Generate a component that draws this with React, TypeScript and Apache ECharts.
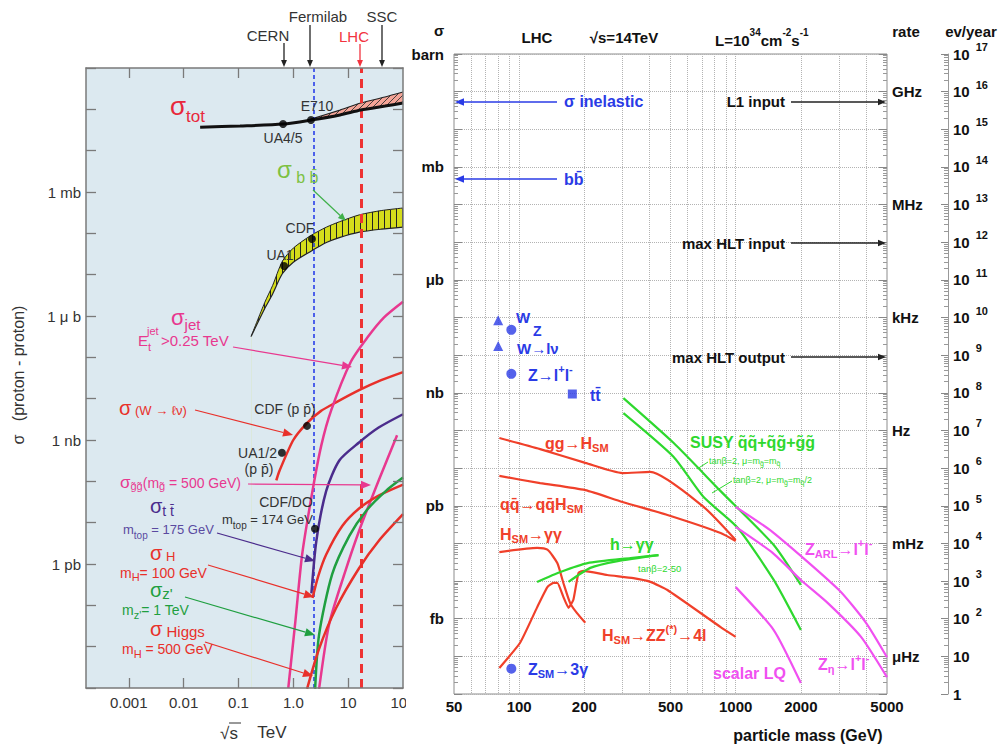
import React, { useEffect, useRef } from 'react';
import * as echarts from 'echarts';

// ================= LEFT PANEL: sigma(p-p) versus sqrt(s) =================
// sqrt(s) in TeV, cross sections in mb
const sqrtSRange = [1.66e-4, 100];
const sigmaRangeMb = [1e-12, 1e3];
const sqrtSTickValues = [0.001, 0.01, 0.1, 1, 10, 100];
const sqrtSTickLabels = ['0.001', '0.01', '0.1', '1.0', '10', '100'];
const sigmaLeftLabelValues = [1, 1e-3, 1e-6, 1e-9];
const sigmaLeftLabels = ['1 mb', '1 \u03bc b', '1 nb', '1 pb'];

const totSqrtS = [0.02, 0.107, 0.65, 2.1, 7.1, 17, 47, 100];
const totSigma = [37, 39.5, 44, 55, 73, 96, 120, 142];
const totBandSqrtS = [2.1, 7.1, 17, 47, 100];
const totBandUpper = [58, 96, 142, 199, 262];
const totBandLower = [55, 73, 96, 120, 142];

const bbSqrtS = [0.17, 0.3, 0.42, 0.63, 1.0, 2.1, 4.0, 6.9, 16, 40, 100];
const bbUpper = [3.2e-4, 2.1e-3, 5.5e-3, 0.021, 0.044, 0.089, 0.141, 0.19, 0.28, 0.355, 0.41];
const bbLower = [3.2e-4, 1.5e-3, 3.4e-3, 0.0105, 0.02, 0.037, 0.06, 0.079, 0.107, 0.126, 0.141];

const wSqrtS = [0.49, 0.56, 1.0, 1.74, 3.16, 6.0, 15.8, 40, 100];
const wSigma = [1.05e-7, 1.8e-7, 1.0e-6, 2.5e-6, 5.0e-6, 8.1e-6, 1.6e-5, 2.8e-5, 4.4e-5];
const jetSqrtS = [0.81, 1.09, 1.45, 2.24, 3.24, 4.9, 11.2, 22.4, 44.7, 100];
const jetSigma = [1.0e-12, 4.1e-11, 1.7e-9, 5.9e-8, 7.4e-7, 5.2e-6, 7.8e-5, 3.0e-4, 9.1e-4, 2.2e-3];
const gluinoSqrtS = [2.95, 4.5, 8.5, 15.8, 36, 78];
const gluinoSigma = [9.5e-13, 3.5e-11, 5.6e-10, 6.3e-9, 1.05e-7, 1.3e-6];
const topSqrtS = [2.14, 2.63, 3.98, 6.9, 15.8, 36, 100];
const topSigma = [1.95e-10, 3.6e-9, 5.9e-8, 3.2e-7, 8.7e-7, 2.0e-6, 4.2e-6];
const h100SqrtS = [2.24, 2.85, 3.98, 7.8, 15.8, 36, 100];
const h100Sigma = [1.5e-10, 5.1e-10, 1.7e-9, 8.3e-9, 2.2e-8, 4.5e-8, 8.3e-8];
const zpSqrtS = [2.5, 2.95, 5.1, 10.5, 21.4, 49, 100];
const zpSigma = [9.5e-13, 1.95e-11, 5.6e-10, 4.8e-9, 1.95e-8, 5.9e-8, 1.23e-7];
const h500SqrtS = [1.78, 2.95, 6.0, 15.8, 36, 100];
const h500Sigma = [9.5e-13, 8.9e-12, 8.5e-11, 7.9e-10, 3.6e-9, 1.6e-8];

// measured points: UA4/5, E710, UA1, CDF(bb), UA1/2, CDF(W), CDF/D0(tt)
const measSqrtS = [0.65, 2.1, 0.68, 2.19, 0.62, 1.78, 2.48];
const measSigma = [44, 55, 0.0162, 0.073, 4.9e-7, 2.2e-6, 7.1e-9];

const tevatronSqrtS = 2.38;
const lhcSqrtS = 17;

// ================= RIGHT PANEL: LHC rates versus particle mass =================
// mass in GeV, cross sections in pb
const massRange = [50, 5000];
const sigmaRangePb = [1e-5, 1e12];
const massLabelValues = [50, 100, 200, 500, 1000, 2000, 5000];
const massGridValues = [60, 70, 80, 90, 100, 200, 300, 400, 500, 600, 700, 800, 900, 1000, 2000, 3000, 4000];
const sigmaUnitValues = [1e12, 1e9, 1e6, 1e3, 1, 1e-3];
const sigmaUnitLabels = ['barn', 'mb', '\u03bcb', 'nb', 'pb', 'fb'];
const rateValuesPb = [1e11, 1e8, 1e5, 1e2, 1e-1, 1e-4];
const rateLabels = ['GHz', 'MHz', 'kHz', 'Hz', 'mHz', '\u03bcHz'];
const eventsPerYearPerPb = 1e5;

const ggHMass = [81, 125, 202, 300, 403, 711, 1000];
const ggHSigma = [63, 32, 13.8, 7.4, 7.9, 0.93, 0.123];
const qqHMass = [81, 125, 202, 300, 484, 852, 1000];
const qqHSigma = [6.2, 4.0, 2.6, 1.26, 0.57, 0.19, 0.116];
const hggMass = [81, 121, 135, 150, 160, 172, 185, 202];
const hggSigma = [0.059, 0.076, 0.068, 0.03, 0.0089, 0.0026, 0.0014, 0.00078];
const hzzMass = [81, 101, 121, 135, 144, 150, 160, 169, 178, 188, 198, 255, 337, 404, 484, 852, 1000];
const hzzSigma = [4.9e-5, 2.3e-4, 2.0e-3, 6.9e-3, 8.9e-3, 8.9e-3, 3.8e-3, 1.95e-3, 3.2e-3, 0.0166, 0.0186, 0.0145, 0.012, 0.0095, 0.0058, 6.0e-4, 3.3e-4];
const mssmGG1Mass = [121, 155, 207, 327, 440];
const mssmGG1Sigma = [0.0095, 0.0174, 0.03, 0.041, 0.049];
const mssmGG2Mass = [169, 213, 285, 440];
const mssmGG2Sigma = [0.0095, 0.0224, 0.034, 0.049];
const susyAMass = [303, 516, 852, 1499, 2000];
const susyASigma = [724, 47, 2.45, 0.091, 0.0079];
const susyBMass = [303, 516, 711, 1021, 1499, 2000];
const susyBSigma = [288, 20, 1.7, 0.26, 0.0107, 5.0e-4];
const zarlMass = [1000, 1482, 3000, 4000, 5000];
const zarlSigma = [0.93, 0.2, 0.0058, 7.8e-4, 9.5e-5];
const zetaMass = [1000, 1482, 2000, 2666, 3793, 5000];
const zetaSigma = [0.275, 0.056, 0.0107, 0.0026, 3.3e-4, 2.8e-5];
const lqMass = [1000, 1499, 2000];
const lqSigma = [6.9e-3, 5.0e-4, 1.95e-5];

const wPointMass = [80, 80];
const wPointSigma = [8.5e4, 1.74e4];
const zPointMass = [92, 92, 92];
const zPointSigma = [4.7e4, 3.2e3, 4.7e-5];
const ttPointMass = [176];
const ttPointSigma = [930];

// ================= styling =================
const FONT = "'Liberation Sans', Arial, Helvetica, sans-serif";
const LEFT_BG = '#dce9f0';
const RED_L = '#e8302a';
const PINK_L = '#e8388f';
const PURPLE_L = '#4b2c8c';
const GREEN_L = '#1f9f40';
const RED_R = '#f0402a';
const GREEN_R = '#2ed82e';
const MAG_R = '#f050f0';
const BLUE_R = '#2a3be6';

function svgPattern(inner: string, w: number, h: number) {
  const svg = `<svg xmlns="http://www.w3.org/2000/svg" width="${w}" height="${h}">${inner}</svg>`;
  return {
    image: 'data:image/svg+xml;charset=utf-8,' + encodeURIComponent(svg),
    repeat: 'repeat',
    imageWidth: w,
    imageHeight: h,
  };
}

function arrow(x1: number, y1: number, x2: number, y2: number, color: string, width = 1.3, head = 8) {
  const a = Math.atan2(y2 - y1, x2 - x1);
  const bx = x2 - head * Math.cos(a);
  const by = y2 - head * Math.sin(a);
  const w = head * 0.42;
  const nx = -Math.sin(a) * w;
  const ny = Math.cos(a) * w;
  return [
    { type: 'line', silent: true, z: 50, shape: { x1, y1, x2: bx, y2: by }, style: { stroke: color, lineWidth: width } },
    { type: 'polygon', silent: true, z: 50, shape: { points: [[x2, y2], [bx + nx, by + ny], [bx - nx, by - ny]] }, style: { fill: color } },
  ];
}

type TOpt = { size?: number; color?: string; weight?: string; align?: string; rich?: any; rotation?: number };
function text(t: string, x: number, y: number, o: TOpt = {}) {
  return {
    type: 'text',
    silent: true,
    z: 60,
    x,
    y,
    rotation: o.rotation || 0,
    style: {
      text: t,
      fill: o.color || '#333',
      fontSize: o.size || 14,
      fontWeight: o.weight || 'normal',
      fontFamily: FONT,
      align: o.align || 'left',
      verticalAlign: 'middle',
      rich: o.rich,
    },
  };
}
// defs: key -> [fontSize, shift]; shift > 0 lowers (subscript), shift < 0 raises (superscript)
function rich(color: string, weight: string, defs: Record<string, number[]>) {
  const r: any = {};
  Object.keys(defs).forEach((k) => {
    const s = defs[k][0];
    const shift = defs[k][1] || 0;
    const pad = shift > 0 ? [shift * 2, 0, 0, 0] : shift < 0 ? [0, 0, -shift * 2, 0] : [0, 0, 0, 0];
    r[k] = { fontSize: s, fill: color, fontWeight: weight, fontFamily: FONT, padding: pad, verticalAlign: 'middle' };
  });
  return r;
}

function buildOption(): any {
  const LG = Math.log10;
  const pts = (xs: number[], ys: number[]) => xs.map((x, i) => [LG(x), LG(ys[i])]);
  const pick = (vals: number[], labels: string[]) => (v: number) => {
    const i = vals.findIndex((t) => Math.abs(LG(t) - v) < 1e-6);
    return i >= 0 ? labels[i] : '';
  };
  const line = (xs: number[], ys: number[], color: string, width: number, xi: number, yi: number, z = 6, smooth: any = 0.25) => ({
    type: 'line',
    xAxisIndex: xi,
    yAxisIndex: yi,
    data: pts(xs, ys),
    symbol: 'none',
    smooth,
    lineStyle: { color, width },
    itemStyle: { color },
    z,
    silent: true,
  });

  const yellowHatch = svgPattern('<rect width="6" height="6" fill="#d5dd1b"/><rect x="0" y="0" width="1" height="6" fill="#222"/>', 6, 6);
  const pinkHatch = svgPattern('<rect width="6" height="6" fill="#f4a497"/><path d="M-1 7 L7 -1" stroke="#333" stroke-width="0.9"/>', 6, 6);

  const gray = '#7a7a7a';
  const leftAxisLine = { show: true, onZero: false, lineStyle: { color: gray, width: 1.5 } };
  const leftTick = { show: true, inside: true, length: 10, lineStyle: { color: gray, width: 1.3 } };
  const xMinL = LG(sqrtSRange[0]);
  const xMaxL = LG(sqrtSRange[1]);
  const yMinL = LG(sigmaRangeMb[0]);
  const yMaxL = LG(sigmaRangeMb[1]);
  const leftTickX = sqrtSTickValues.slice(0, 5).map(LG);

  const xMinR = LG(massRange[0]);
  const xMaxR = LG(massRange[1]);
  const yMinR = LG(sigmaRangePb[0]);
  const yMaxR = LG(sigmaRangePb[1]);
  const minorR: number[] = [];
  for (let n = yMinR; n < yMaxR; n++) for (let k = 2; k <= 9; k++) minorR.push(n + LG(k));
  const boldLabel = { color: '#111', fontWeight: 'bold', fontSize: 15, fontFamily: FONT };
  const noLine = { show: false, onZero: false };
  const dotted = { show: true, lineStyle: { color: '#b3b3b3', type: 'dotted', width: 1 } };

  const xAxis = [
    {
      type: 'value', gridIndex: 0, position: 'bottom', min: xMinL, max: xMaxL, z: 10,
      axisLine: leftAxisLine, axisTick: { ...leftTick, customValues: leftTickX },
      axisLabel: { customValues: sqrtSTickValues.map(LG), formatter: pick(sqrtSTickValues, sqrtSTickLabels), color: '#333', fontSize: 15, fontFamily: FONT, margin: 7, showMinLabel: true, showMaxLabel: true },
      splitLine: { show: false },
    },
    {
      type: 'value', gridIndex: 0, position: 'top', min: xMinL, max: xMaxL, z: 10,
      axisLine: leftAxisLine, axisTick: { ...leftTick, customValues: leftTickX },
      axisLabel: { show: false }, splitLine: { show: false },
    },
    {
      type: 'value', gridIndex: 1, position: 'bottom', min: xMinR, max: xMaxR,
      axisLine: noLine, axisTick: { show: false, customValues: massGridValues.map(LG) },
      axisLabel: { ...boldLabel, customValues: massLabelValues.map(LG), formatter: (v: number) => String(Math.round(Math.pow(10, v))), margin: 5, showMinLabel: true, showMaxLabel: true },
      splitLine: dotted,
    },
  ];

  const evLabel = (v: number) => {
    const e = Math.round(v + LG(eventsPerYearPerPb));
    if (e === 0) return '{b|1}';
    if (e === 1) return '{b|10}';
    return '{b|10}{s|' + e + '}';
  };

  const yAxis = [
    {
      type: 'value', gridIndex: 0, position: 'left', min: yMinL, max: yMaxL, interval: 1, z: 10,
      axisLine: leftAxisLine, axisTick: leftTick,
      axisLabel: { customValues: sigmaLeftLabelValues.map(LG), formatter: pick(sigmaLeftLabelValues, sigmaLeftLabels), color: '#333', fontSize: 15, fontFamily: FONT, margin: 5 },
      splitLine: { show: false },
    },
    {
      type: 'value', gridIndex: 0, position: 'right', min: yMinL, max: yMaxL, interval: 1, z: 10,
      axisLine: leftAxisLine, axisTick: leftTick, axisLabel: { show: false }, splitLine: { show: false },
    },
    {
      type: 'value', gridIndex: 1, position: 'left', min: yMinR, max: yMaxR, interval: 1,
      axisLine: noLine, axisTick: { show: true, inside: true, length: 8, lineStyle: { color: '#888' } },
      axisLabel: { ...boldLabel, customValues: sigmaUnitValues.map(LG), formatter: pick(sigmaUnitValues, sigmaUnitLabels), margin: 10, showMaxLabel: true },
      splitLine: dotted,
    },
    {
      type: 'value', gridIndex: 1, position: 'left', min: yMinR, max: yMaxR,
      axisLine: noLine, axisTick: { show: true, inside: true, length: 4, customValues: minorR, lineStyle: { color: '#999' } },
      axisLabel: { show: false }, splitLine: { show: false },
    },
    {
      type: 'value', gridIndex: 1, position: 'right', min: yMinR, max: yMaxR, interval: 1,
      axisLine: noLine, axisTick: { show: true, inside: true, length: 8, lineStyle: { color: '#888' } },
      axisLabel: { ...boldLabel, customValues: rateValuesPb.map(LG), formatter: pick(rateValuesPb, rateLabels), margin: 5 },
      splitLine: { show: false },
    },
    {
      type: 'value', gridIndex: 1, position: 'right', min: yMinR, max: yMaxR,
      axisLine: noLine, axisTick: { show: true, inside: true, length: 4, customValues: minorR, lineStyle: { color: '#999' } },
      axisLabel: { show: false }, splitLine: { show: false },
    },
    {
      type: 'value', gridIndex: 1, position: 'right', offset: 61, min: yMinR, max: yMaxR, interval: 1,
      axisLine: { show: true, onZero: false, lineStyle: { color: '#999', width: 1 } },
      axisTick: { show: true, inside: true, length: 7, lineStyle: { color: '#888' } },
      axisLabel: {
        formatter: evLabel, margin: 5, showMinLabel: true, showMaxLabel: true,
        rich: {
          b: { fontSize: 15, fontWeight: 'bold', color: '#111', fontFamily: FONT },
          s: { fontSize: 11, fontWeight: 'bold', color: '#111', fontFamily: FONT, padding: [0, 0, 14, 6] },
        },
      },
      splitLine: { show: false },
    },
    {
      type: 'value', gridIndex: 1, position: 'right', offset: 61, min: yMinR, max: yMaxR,
      axisLine: noLine, axisTick: { show: true, inside: true, length: 4, customValues: minorR, lineStyle: { color: '#999' } },
      axisLabel: { show: false }, splitLine: { show: false },
    },
  ];

  const series: any[] = [
    // sigma_tot band (pink, hatched) and cover below its lower edge
    { ...line(totBandSqrtS, totBandUpper, '#222', 1.2, 0, 0, 1), areaStyle: { color: pinkHatch, opacity: 1, origin: 'start' } },
    { ...line(totBandSqrtS, totBandLower, '#222', 1, 0, 0, 2), areaStyle: { color: LEFT_BG, opacity: 1, origin: 'start' } },
    // sigma_bb band (yellow, hatched)
    { ...line(bbSqrtS, bbUpper, '#222', 1, 0, 0, 3), areaStyle: { color: yellowHatch, opacity: 1, origin: 'start' } },
    { ...line(bbSqrtS, bbLower, '#222', 1.2, 0, 0, 4), areaStyle: { color: LEFT_BG, opacity: 1, origin: 'start' } },
    line(totSqrtS, totSigma, '#111', 3, 0, 0, 6),
    {
      ...line(wSqrtS, wSigma, RED_L, 2.5, 0, 0, 6),
      markLine: {
        silent: true, symbol: ['none', 'none'], label: { show: false }, z: 5,
        data: [
          { xAxis: LG(tevatronSqrtS), lineStyle: { color: '#1d33e8', width: 1.5, type: [4, 3] } },
          { xAxis: LG(lhcSqrtS), lineStyle: { color: '#ee3333', width: 3, type: [9, 6] } },
        ],
      },
    },
    line(jetSqrtS, jetSigma, PINK_L, 2.5, 0, 0, 6),
    line(gluinoSqrtS, gluinoSigma, PINK_L, 2.5, 0, 0, 6),
    line(topSqrtS, topSigma, PURPLE_L, 2.5, 0, 0, 6),
    line(h100SqrtS, h100Sigma, RED_L, 2.5, 0, 0, 6),
    line(zpSqrtS, zpSigma, GREEN_L, 2.5, 0, 0, 6),
    line(h500SqrtS, h500Sigma, RED_L, 2.5, 0, 0, 6),
    { type: 'scatter', xAxisIndex: 0, yAxisIndex: 0, data: pts(measSqrtS, measSigma), symbol: 'circle', symbolSize: 8, itemStyle: { color: '#000' }, z: 8, silent: true },

    // right panel
    line(ggHMass, ggHSigma, RED_R, 2.2, 2, 2, 6, 0.2),
    line(qqHMass, qqHSigma, RED_R, 2.2, 2, 2, 6, 0.2),
    line(hggMass, hggSigma, RED_R, 2.2, 2, 2, 6, 0.2),
    line(hzzMass, hzzSigma, RED_R, 2.2, 2, 2, 6, 0.15),
    line(mssmGG1Mass, mssmGG1Sigma, GREEN_R, 2.2, 2, 2, 6, 0.2),
    line(mssmGG2Mass, mssmGG2Sigma, GREEN_R, 2.2, 2, 2, 6, 0.2),
    line(susyAMass, susyASigma, GREEN_R, 2.2, 2, 2, 6, 0.2),
    line(susyBMass, susyBSigma, GREEN_R, 2.2, 2, 2, 6, 0.2),
    line(zarlMass, zarlSigma, MAG_R, 2.2, 2, 2, 6, 0.2),
    line(zetaMass, zetaSigma, MAG_R, 2.2, 2, 2, 6, 0.2),
    line(lqMass, lqSigma, MAG_R, 2.2, 2, 2, 6, 0.2),
    { type: 'scatter', xAxisIndex: 2, yAxisIndex: 2, data: pts(wPointMass, wPointSigma), symbol: 'triangle', symbolSize: 10, itemStyle: { color: BLUE_R }, z: 8, silent: true },
    { type: 'scatter', xAxisIndex: 2, yAxisIndex: 2, data: pts(zPointMass, zPointSigma), symbol: 'circle', symbolSize: 10, itemStyle: { color: BLUE_R }, z: 8, silent: true },
    { type: 'scatter', xAxisIndex: 2, yAxisIndex: 2, data: pts(ttPointMass, ttPointSigma), symbol: 'rect', symbolSize: 9, itemStyle: { color: BLUE_R }, z: 8, silent: true },
  ];

  // ---------------- annotations ----------------
  const dark = '#333';
  const g: any[] = [];
  // accelerators above left panel
  g.push(text('CERN', 268, 35, { size: 15, align: 'center' }));
  g.push(text('Fermilab', 318, 16, { size: 15, align: 'center' }));
  g.push(text('LHC', 354, 36, { size: 15, align: 'center', color: '#f2333f' }));
  g.push(text('SSC', 382, 16, { size: 15, align: 'center' }));
  g.push(...arrow(284, 43, 284, 67, '#222', 1.3, 7));
  g.push(...arrow(310, 25, 310, 67, '#222', 1.3, 7));
  g.push(...arrow(360, 44, 360, 67, '#f2333f', 1.3, 7));
  g.push(...arrow(382, 25, 382, 67, '#222', 1.3, 7));

  g.push(text('{g|\u03c3}{s|tot}', 170, 106, { rich: rich('#e8283c', 'normal', { g: [26], s: [17, 10] }) }));
  g.push(text('E710', 317, 106, { size: 14, align: 'center' }));
  g.push(text('UA4/5', 283, 138, { size: 14, align: 'center' }));
  g.push(text('{g|\u03c3}{s| b b\u0304}', 277, 169, { rich: rich('#7cc142', 'normal', { g: [24], s: [16, 8] }) }));
  g.push(...arrow(313, 190, 346, 221, '#3fb04a', 1.2, 8));
  g.push(text('CDF', 300, 228, { size: 14, align: 'center' }));
  g.push(text('UA1', 280, 255, { size: 14, align: 'center' }));

  g.push(text('{g|\u03c3}{s|jet}', 171, 317, { rich: rich(PINK_L, 'normal', { g: [22], s: [15, 7] }) }));
  g.push(text('E', 138, 340, { size: 15, color: PINK_L }));
  g.push(text('jet', 147, 331, { size: 11, color: PINK_L }));
  g.push(text('t', 148, 347, { size: 11, color: PINK_L }));
  g.push(text('>0.25 TeV', 161, 340, { size: 15, color: PINK_L }));
  g.push(...arrow(233, 347, 352, 367, PINK_L, 1.2, 10));

  g.push(text('{g|\u03c3}{t| (W \u2192 \u2113\u03bd)}', 119, 408, { rich: rich(RED_L, 'normal', { g: [20], t: [13, 2] }) }));
  g.push(...arrow(195, 410, 293, 435, RED_L, 1.2, 10));
  g.push(text('CDF (p p\u0304)', 285, 409, { size: 14, align: 'center' }));
  g.push(text('UA1/2', 277, 453, { size: 14, align: 'right' }));
  g.push(text('(p p\u0304)', 259, 469, { size: 14, align: 'center' }));

  g.push(text('{g|\u03c3}{s|g\u0303g\u0303}{t|(m}{s|g\u0303}{t| = 500 GeV)}', 120, 482, { rich: rich(PINK_L, 'normal', { g: [17], s: [11, 4], t: [14, 1] }) }));
  g.push(...arrow(248, 484, 371, 485, PINK_L, 1.2, 10));

  g.push(text('{g|\u03c3}{s|t t\u0304}', 150, 506, { rich: rich(PURPLE_L, 'normal', { g: [20], s: [14, 5] }) }));
  g.push(text('{t|m}{s|top}{t| = 175 GeV}', 123, 529, { rich: rich('#5a4aa0', 'normal', { t: [13], s: [10, 6] }) }));
  g.push(...arrow(217, 533, 315, 561, PURPLE_L, 1.2, 10));
  g.push(text('CDF/DO', 286, 502, { size: 14, align: 'center' }));
  g.push(text('{t|m}{s|top}{t| = 174 GeV}', 222, 519, { rich: rich(dark, 'normal', { t: [13], s: [10, 6] }) }));

  g.push(text('{g|\u03c3}{s| H}', 150, 553, { rich: rich(RED_L, 'normal', { g: [20], s: [13, 3] }) }));
  g.push(text('{t|m}{s|H}{t|= 100 GeV}', 120, 573, { rich: rich(RED_L, 'normal', { t: [14], s: [11, 4] }) }));
  g.push(...arrow(208, 565, 314, 597, RED_L, 1.2, 10));

  g.push(text("{g|\u03c3}{s|z'}", 150, 590, { rich: rich(GREEN_L, 'normal', { g: [20], s: [15, 3] }) }));
  g.push(text("{t|m}{s|z'}{t|= 1 TeV}", 122, 610, { rich: rich(GREEN_L, 'normal', { t: [14], s: [11, 5] }) }));
  g.push(...arrow(185, 597, 315, 635, GREEN_L, 1.2, 10));

  g.push(text('{g|\u03c3}{s| Higgs}', 150, 629, { rich: rich(RED_L, 'normal', { g: [20], s: [15, 2] }) }));
  g.push(text('{t|m}{s|H}{t| = 500 GeV}', 122, 649, { rich: rich(RED_L, 'normal', { t: [14], s: [11, 5] }) }));
  g.push(...arrow(205, 642, 313, 676, RED_L, 1.2, 10));

  g.push(text('\u03c3   (proton - proton)', 18, 375, { size: 16, align: 'center', rotation: Math.PI / 2 }));
  g.push(text('\u221as', 229, 733, { size: 17, align: 'center' }));
  g.push({ type: 'line', silent: true, z: 60, shape: { x1: 229, y1: 723, x2: 241, y2: 723 }, style: { stroke: dark, lineWidth: 1 } });
  g.push(text('TeV', 272, 732, { size: 17, align: 'center' }));
  g.push({ type: 'rect', silent: true, z: 40, shape: { x: 406, y: 693, width: 40, height: 20 }, style: { fill: '#fff' } });

  // right panel header
  const B = '#111';
  g.push(text('\u03c3', 439, 30, { size: 15, weight: 'bold', color: B, align: 'center' }));
  g.push(text('LHC', 537, 37, { size: 15, weight: 'bold', color: B, align: 'center' }));
  g.push(text('\u221as=14TeV', 624, 37, { size: 15, weight: 'bold', color: B, align: 'center' }));
  g.push(text('{t|L=10}{p|34}{t|cm}{p|-2}{t|s}{p|-1}', 715, 40, { rich: rich(B, 'bold', { t: [15], p: [10, -8] }) }));
  g.push(text('rate', 906, 31, { size: 15, weight: 'bold', color: B, align: 'center' }));
  g.push(text('ev/year', 971, 31, { size: 15, weight: 'bold', color: B, align: 'center' }));

  // reference lines
  g.push(text('\u03c3 inelastic', 564, 101, { size: 16, weight: 'bold', color: BLUE_R }));
  g.push(...arrow(557, 102, 455, 102, BLUE_R, 1.5, 9));
  g.push(text('bb\u0304', 564, 179, { size: 16, weight: 'bold', color: BLUE_R }));
  g.push(...arrow(557, 179, 455, 179, BLUE_R, 1.5, 9));
  g.push(text('L1 input', 785, 101, { size: 15, weight: 'bold', color: B, align: 'right' }));
  g.push(...arrow(791, 102, 886, 102, '#222', 1.5, 8));
  g.push(text('max HLT input', 785, 243, { size: 15, weight: 'bold', color: B, align: 'right' }));
  g.push(...arrow(791, 243, 886, 243, '#222', 1.5, 8));
  g.push(text('max HLT output', 785, 357, { size: 15, weight: 'bold', color: B, align: 'right' }));
  g.push(...arrow(791, 357, 886, 357, '#222', 1.5, 8));

  // right panel process labels
  const rb = (c: string) => rich(c, 'bold', { t: [16], s: [11, 5], p: [11, -6] });
  g.push(text('W', 516, 317, { size: 15, weight: 'bold', color: BLUE_R }));
  g.push(text('Z', 533, 331, { size: 14, weight: 'bold', color: BLUE_R }));
  g.push(text('W\u2192l\u03bd', 517, 348, { size: 15, weight: 'bold', color: BLUE_R }));
  g.push(text('{t|Z\u2192l}{p|+}{t|l}{p|-}', 528, 375, { rich: rb(BLUE_R) }));
  g.push(text('tt\u0304', 590, 395, { size: 16, weight: 'bold', color: BLUE_R }));
  g.push(text('{t|Z}{s|SM}{t|\u21923\u03b3}', 528, 669, { rich: rb(BLUE_R) }));

  g.push(text('{t|gg\u2192H}{s|SM}', 545, 443, { rich: rb(RED_R) }));
  g.push(text('{t|qq\u0304\u2192qq\u0304H}{s|SM}', 500, 504, { rich: rb(RED_R) }));
  g.push(text('{t|H}{s|SM}{t|\u2192\u03b3\u03b3}', 500, 534, { rich: rb(RED_R) }));
  g.push(text('{t|H}{s|SM}{t|\u2192ZZ}{p|(*)}{t|\u21924l}', 602, 635, { rich: rb(RED_R) }));

  g.push(text('h\u2192\u03b3\u03b3', 610, 544, { size: 16, weight: 'bold', color: GREEN_R }));
  g.push(text('tan\u03b2=2-50', 638, 568, { size: 9.5, color: GREEN_R }));
  g.push(text('SUSY q\u0303q\u0303+q\u0303g\u0303+g\u0303g\u0303', 690, 442, { size: 16, weight: 'bold', color: GREEN_R }));
  const smallG = rich(GREEN_R, 'normal', { t: [9], s: [7, 2] });
  g.push(text('{t|tan\u03b2=2, \u03bc=m}{s|g\u0303}{t|=m}{s|q\u0303}', 709, 461, { rich: smallG }));
  g.push(text('{t|tan\u03b2=2, \u03bc=m}{s|g\u0303}{t|=m}{s|q\u0303}{t|/2}', 733, 480, { rich: smallG }));
  g.push({ type: 'line', silent: true, z: 50, shape: { x1: 708, y1: 462, x2: 697, y2: 469 }, style: { stroke: GREEN_R, lineWidth: 1 } });
  g.push({ type: 'line', silent: true, z: 50, shape: { x1: 732, y1: 481, x2: 712, y2: 493 }, style: { stroke: GREEN_R, lineWidth: 1 } });

  g.push(text('{t|Z}{s|ARL}{t|\u2192l}{p|+}{t|l}{p|-}', 805, 549, { rich: rb(MAG_R) }));
  g.push(text('{t|Z}{s|\u03b7}{t|\u2192l}{p|+}{t|l}{p|-}', 818, 664, { rich: rb(MAG_R) }));
  g.push(text('scalar LQ', 713, 673, { size: 16, weight: 'bold', color: MAG_R }));
  g.push(text('particle mass (GeV)', 808, 735, { size: 16, weight: 'bold', color: B, align: 'center' }));

  return {
    animation: false,
    backgroundColor: '#ffffff',
    textStyle: { fontFamily: FONT },
    grid: [
      { left: 86, top: 68, width: 317, height: 620, show: true, backgroundColor: LEFT_BG, borderWidth: 0, containLabel: false, outerBoundsMode: 'none' },
      { left: 454, top: 54, width: 433, height: 640, show: true, backgroundColor: '#ffffff', borderColor: '#8c8c8c', borderWidth: 1, containLabel: false, outerBoundsMode: 'none' },
    ],
    xAxis,
    yAxis,
    series,
    graphic: { elements: g },
  };
}

export default function App() {
  const ref = useRef<HTMLDivElement>(null);
  useEffect(() => {
    if (!ref.current) return;
    const chart = echarts.init(ref.current, undefined, { renderer: 'svg' });
    chart.setOption(buildOption());
    return () => chart.dispose();
  }, []);
  return (
    <div
      ref={ref}
      style={{ position: 'fixed', left: 0, top: 0, width: 1006, height: 747, background: '#fff' }}
    />
  );
}
